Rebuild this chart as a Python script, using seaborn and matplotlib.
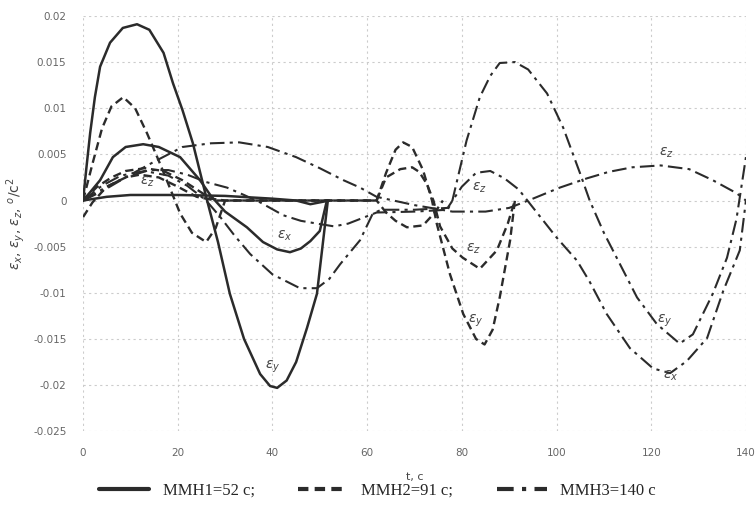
import matplotlib
matplotlib.use("Agg")
import matplotlib.pyplot as plt
from matplotlib.lines import Line2D
from matplotlib.ticker import FuncFormatter
import pandas as pd
import seaborn as sns

# MMH1 = 52 s (solid)
t_s_y = [0, 0.7, 1.5, 2.5, 3.6, 5.7, 8.4, 11.4, 14, 17, 19, 21, 23.2, 26.2, 28.5, 31, 34, 37.4, 39.5, 41,
         43, 45, 47.3, 49.4, 51.7]
v_s_y = [0, 0.0035, 0.0073, 0.0112, 0.0145, 0.0171, 0.0187, 0.0191, 0.0185, 0.0160, 0.0127, 0.0098,
         0.0062, 0, -0.0045, -0.0101, -0.0150, -0.0188, -0.0201, -0.0203, -0.0195, -0.0175, -0.0138,
         -0.0101, 0]
t_s_x = [0, 1.5, 3.6, 6.3, 9, 12.7, 16, 20.5, 24.7, 27, 30, 34.6, 38, 41, 43.7, 46, 48, 50, 51.5]
v_s_x = [0, 0.0009, 0.0022, 0.0047, 0.0058, 0.0061, 0.0058, 0.0047, 0.0022, 0.0005, -0.0012, -0.0029,
         -0.0045, -0.0053, -0.0056, -0.0052, -0.0044, -0.0033, 0]
t_s_z = [0, 5, 10, 20, 30, 40, 45, 48, 52]
v_s_z = [0, 0.0004, 0.0006, 0.0006, 0.0005, 0.0002, 0, -0.0004, 0]

# MMH2 = 91 s (dashed)
t_d_y = [0, 2, 4, 6, 8.5, 11, 13.5, 16, 18, 20.5, 23, 26, 28, 30, 62, 64, 66, 67.6, 69.5, 71.8, 73.7,
         74.7, 77.5, 80.3, 83, 84.8, 86.5, 88, 90.2, 91.2]
v_d_y = [0, 0.004, 0.0078, 0.0102, 0.0112, 0.0100, 0.0073, 0.0043, 0.0018, -0.0014, -0.0035, -0.0045,
         -0.003, 0, 0, 0.003, 0.0055, 0.0063, 0.0058, 0.0033, 0, -0.0025, -0.008, -0.0123, -0.0150,
         -0.0156, -0.0140, -0.0105, -0.0043, 0]
t_d_x = [0, 3, 6, 9, 13, 17, 21, 24, 27, 30, 62, 64, 67, 69.5, 71, 72.6, 74, 75.4, 78, 80.2, 83.8,
         87.4, 89.7, 91.2]
v_d_x = [0, 0.0015, 0.0025, 0.0032, 0.0035, 0.0032, 0.0022, 0.0012, 0.0002, 0, 0, 0.0025, 0.0034,
         0.0036, 0.0031, 0.0018, 0, -0.0028, -0.0052, -0.0062, -0.0074, -0.0054, -0.0025, 0]
t_d_z = [0, 2, 5, 9, 12, 16, 20, 24, 28, 62, 64, 66, 68.4, 71.8, 74.3, 76]
v_d_z = [-0.0018, -0.0002, 0.0015, 0.0025, 0.0028, 0.0025, 0.0015, 0.0004, 0, 0, -0.0013, -0.0022,
         -0.0029, -0.0027, -0.0013, 0]

# MMH3 = 140 s (dash-dot)
t_dd_z = [0, 5, 10, 15, 21, 27, 33, 39, 45, 50, 55, 58.5, 62, 70, 78, 85, 90, 95, 100.7, 106.4, 111,
          116, 122, 128, 133, 138, 140]
v_dd_z = [0, 0.0015, 0.0028, 0.0042, 0.0058, 0.0062, 0.0063, 0.0058, 0.0047, 0.0035, 0.0022, 0.0014,
          0.0004, -0.0005, -0.0012, -0.0012, -0.0008, 0.0002, 0.0014, 0.0024, 0.0031, 0.0036, 0.0038,
          0.0034, 0.0022, 0.0008, 0]
t_dd_x = [0, 4, 8, 13, 18, 22, 26, 29, 32, 35.3, 40, 45.8, 49.4, 52, 54.3, 58.5, 61.2, 63, 70, 77, 80,
          83, 86, 89, 92, 96, 100, 104.3, 107, 110.6, 115.5, 120.4, 124, 127.5, 131.8, 135.2, 138.7, 140]
v_dd_x = [0, 0.0016, 0.0027, 0.0032, 0.0027, 0.0016, 0.0, -0.0018, -0.0038, -0.0058, -0.0080, -0.0095,
          -0.0095, -0.0085, -0.0069, -0.0043, -0.0014, -0.001, -0.001, -0.0008, 0.0015, 0.003, 0.0032,
          0.0024, 0.0012, -0.0014, -0.004, -0.0065, -0.0088, -0.0123, -0.016, -0.0182, -0.0187, -0.0174,
          -0.0149, -0.0098, -0.0054, 0]
t_dd_y = [0, 4, 9, 14, 18, 22, 26, 30.4, 34, 37.4, 42.3, 46, 49.4, 53, 56, 58.5, 62, 70, 77, 78, 81,
          83.8, 86, 88, 91.2, 94, 98, 101.4, 105, 107, 110, 112.5, 117, 121.2, 126, 128.8, 133, 136, 138, 140]
v_dd_y = [0, 0.001, 0.0025, 0.0033, 0.0033, 0.0028, 0.002, 0.0014, 0.0006, -0.0002, -0.0016, -0.0022,
          -0.0025, -0.0028, -0.0025, -0.002, -0.0013, -0.0012, -0.001, 0, 0.0065, 0.0112, 0.0135, 0.0149,
          0.015, 0.0142, 0.0116, 0.0079, 0.0029, 0, -0.0035, -0.006, -0.0105, -0.0134, -0.0155, -0.0145,
          -0.0101, -0.0062, -0.002, 0.0047]

legend_labels = ["ММН1=52 с;", "ММН2=91 с;", "ММН3=140 с"]

# curve annotations: text, t, value
ann_text = ["z", "x", "y", "z", "z", "y", "z", "y", "x"]
ann_t = [13.5, 42.6, 40, 83.8, 82.4, 83, 123.3, 122.9, 124]
ann_v = [0.002, -0.0038, -0.018, 0.0014, -0.0052, -0.013, 0.0052, -0.013, -0.019]

sns.set_style("whitegrid")
plt.rcParams["axes.unicode_minus"] = False

fig = plt.figure(figsize=(7.55, 5.14), dpi=100)
ax = fig.add_axes([0.110, 0.161, 0.878, 0.808])

ink = "#2b2b2b"
styles = {
    "solid": dict(linestyle="-", linewidth=1.8),
    "dashed": dict(linestyle=(0, (3.5, 2)), linewidth=1.7),
    "dashdot": dict(linestyle=(0, (7, 2.5, 1.5, 2.5)), linewidth=1.5),
}
curves = [
    (t_s_y, v_s_y, "solid"), (t_s_x, v_s_x, "solid"), (t_s_z, v_s_z, "solid"),
    (t_d_y, v_d_y, "dashed"), (t_d_x, v_d_x, "dashed"), (t_d_z, v_d_z, "dashed"),
    (t_dd_z, v_dd_z, "dashdot"), (t_dd_x, v_dd_x, "dashdot"), (t_dd_y, v_dd_y, "dashdot"),
]
for t, v, st in curves:
    df = pd.DataFrame({"t": t, "v": v})
    sns.lineplot(data=df, x="t", y="v", ax=ax, color=ink, sort=False, estimator=None, **styles[st])

for s, t, v in zip(ann_text, ann_t, ann_v):
    ax.text(t, v, r"$\varepsilon_%s$" % s, fontsize=10, color="#444444", ha="center", va="center")

ax.set_xlim(0, 140)
ax.set_ylim(-0.025, 0.02)
ax.set_xticks(range(0, 141, 20))
ax.set_yticks([0.02, 0.015, 0.01, 0.005, 0, -0.005, -0.01, -0.015, -0.02, -0.025])
ax.yaxis.set_major_formatter(FuncFormatter(lambda y, p: "%g" % round(y, 4)))
ax.tick_params(axis="both", labelsize=7.5, colors="#666666", length=0, pad=12)
ax.grid(True, color="#cccccc", linestyle=(0, (2, 3)), linewidth=0.8)
for sp in ax.spines.values():
    sp.set_visible(False)

ax.set_xlabel("t, с", fontsize=8, color="#444444", labelpad=10)
ax.set_ylabel(r"$\varepsilon_x$, $\varepsilon_y$, $\varepsilon_z$, $^o$/с$^2$", fontsize=10,
              color="#444444", labelpad=4)

handles = [
    Line2D([], [], color=ink, linewidth=3, linestyle="-"),
    Line2D([], [], color=ink, linewidth=3, linestyle=(0, (2.5, 1.5))),
    Line2D([], [], color=ink, linewidth=3, linestyle=(0, (4, 2, 1, 2))),
]
fig.legend(handles, legend_labels, loc="lower center", bbox_to_anchor=(0.5, 0.0), ncol=3,
           frameon=False, handlelength=3.0, columnspacing=2.6,
           prop={"family": "Liberation Serif", "size": 12})

fig.savefig("out.png", dpi=100, facecolor="white")
